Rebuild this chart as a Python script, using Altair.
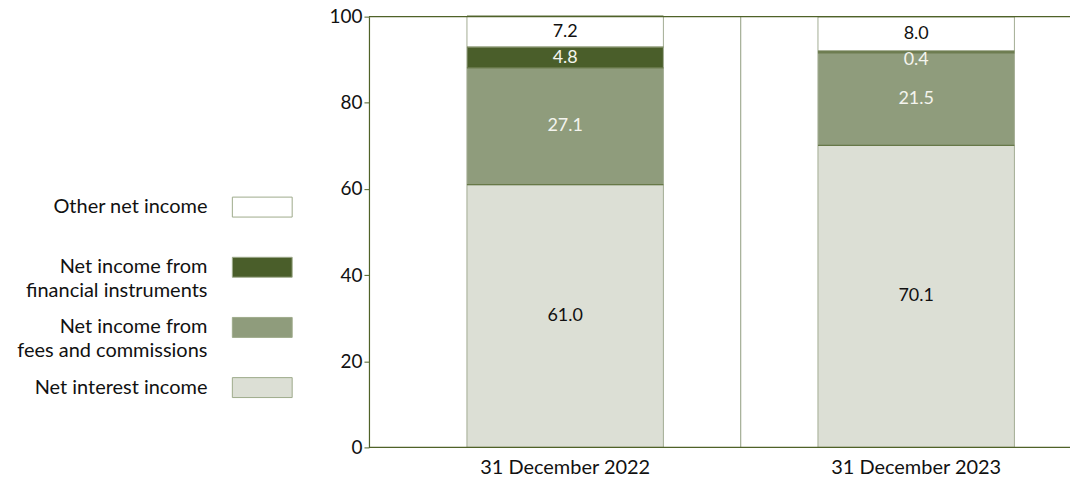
import altair as alt
import pandas as pd

# Share of operating income by component (%)
periods = ["31 December 2022", "31 December 2023"]
components = [
    "Net interest income",
    "Net income from fees and commissions",
    "Net income from financial instruments",
    "Other net income",
]
legend_labels = [
    "Other net income",
    "Net income from\nfinancial instruments",
    "Net income from\nfees and commissions",
    "Net interest income",
]
values_2022 = [61.0, 27.1, 4.8, 7.2]
values_2023 = [70.1, 21.5, 0.4, 8.0]

fill_colors = ["#dcdfd5", "#8f9c7c", "#4a5e2a", "#ffffff"]
dark_green = "#4f6228"
light_edge = "#a3ad94"
FONT = "Lato"

rows = []
for period, vals in zip(periods, [values_2022, values_2023]):
    for order, (comp, v) in enumerate(zip(components, vals)):
        rows.append({"period": period, "component": comp, "value": v, "order": order})
df = pd.DataFrame(rows)

x_enc = alt.X(
    "period:N",
    sort=periods,
    title=None,
    scale=alt.Scale(range=[20.75, 724.75], paddingInner=0, paddingOuter=0),
    axis=alt.Axis(
        ticks=False,
        domain=False,
        labelAngle=0,
        labelPadding=10,
        labelColor="#111111",
        labelFontSize=20,
        labelFont=FONT,
    ),
)
y_scale = alt.Scale(domain=[0, 100], nice=False)

base = alt.Chart(df).transform_stack(
    stack="value",
    groupby=["period"],
    sort=[alt.SortField("order", order="ascending")],
    as_=["y0", "y1"],
).transform_calculate(
    label_y="datum.value < 1 ? datum.y1 - 2 : (datum.y0 + datum.y1) / 2",
)

bars = base.mark_bar(size=197, stroke=light_edge, strokeWidth=1).encode(
    x=x_enc,
    y=alt.Y(
        "y0:Q",
        scale=y_scale,
        title=None,
        axis=alt.Axis(
            values=[0, 20, 40, 60, 80, 100],
            grid=False,
            domainColor=dark_green,
            tickColor=dark_green,
            tickSize=5,
            labelColor="#111111",
            labelFontSize=19,
            labelFont=FONT,
            labelPadding=2,
        ),
    ),
    y2="y1:Q",
    color=alt.Color(
        "component:N",
        scale=alt.Scale(domain=components, range=fill_colors),
        legend=None,
    ),
)

# dark edges between stacked segments
edges = base.mark_tick(
    orient="horizontal", size=197, thickness=1.3, color=dark_green
).encode(x=alt.X("period:N", sort=periods), y=alt.Y("y1:Q", scale=y_scale))

# separator between the two periods
separator = alt.Chart(pd.DataFrame({"period": [periods[0]]})).mark_rule(
    color=light_edge, strokeWidth=1.2
).encode(x=alt.X("period:N", sort=periods, bandPosition=1))

# frame lines at 0 and 100 across the full plot width
frame = alt.Chart(pd.DataFrame({"v": [0, 100]})).mark_rule(
    color=dark_green, strokeWidth=1.2
).encode(y=alt.Y("v:Q", scale=y_scale))

labels = base.mark_text(fontSize=18, font=FONT).encode(
    x=alt.X("period:N", sort=periods),
    y=alt.Y("label_y:Q", scale=y_scale),
    text=alt.Text("value:Q", format=".1f"),
    color=alt.condition(
        "datum.order == 1 || datum.order == 2",
        alt.value("#f4f4ee"),
        alt.value("#111111"),
    ),
)

main = alt.layer(bars, edges, separator, frame, labels).properties(
    width=703, height=432
)

# legend drawn as its own panel: labels left of the swatches
leg_df = pd.DataFrame(
    {
        "label": legend_labels,
        "component": list(reversed(components)),
    }
)
leg_y = alt.Y(
    "label:N",
    sort=legend_labels,
    scale=alt.Scale(range=[191, 372], padding=0),
    axis=None,
)
swatches = alt.Chart(leg_df).mark_point(
    shape="M-1,-0.3333H1V0.3333H-1Z",
    size=3600,
    filled=True,
    stroke="#9fab8c",
    strokeWidth=1,
    opacity=1,
).encode(
    x=alt.value(258),
    y=leg_y,
    fill=alt.Fill(
        "component:N",
        scale=alt.Scale(domain=components, range=fill_colors),
        legend=None,
    ),
)
leg_text = alt.Chart(leg_df).mark_text(
    align="right", baseline="middle", fontSize=20, font=FONT,
    lineBreak="\n", lineHeight=24, color="#111111",
).encode(x=alt.value(203), y=leg_y, text="label:N")

legend_panel = alt.layer(swatches, leg_text).properties(width=290, height=432)

chart = (
    alt.hconcat(legend_panel, main, spacing=34)
    .resolve_scale(fill="independent", y="independent")
    .properties(padding={"left": 5, "top": 7, "right": 0, "bottom": 3})
    .configure_view(stroke=None)
    .configure_axis(domainWidth=1.2)
)

chart.save("out.html", embed_options={"renderer": "svg", "actions": False})
